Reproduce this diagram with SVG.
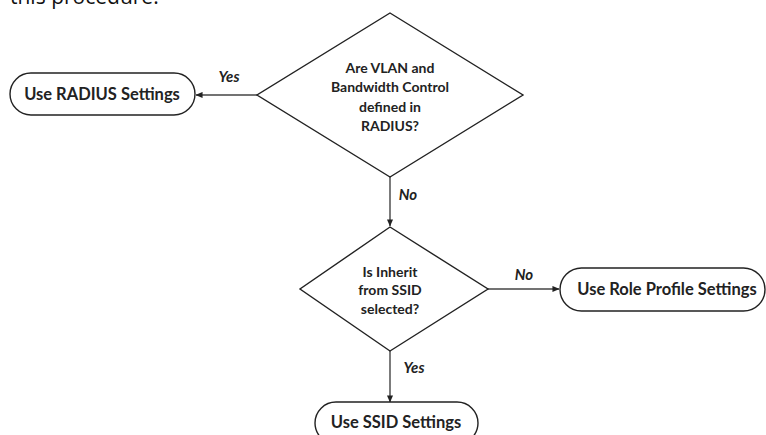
<svg xmlns="http://www.w3.org/2000/svg" width="766" height="435" viewBox="0 0 766 435">
<defs>
<marker id="ah" viewBox="0 0 8 8" refX="7.5" refY="4" markerWidth="7" markerHeight="7" markerUnits="userSpaceOnUse" orient="auto">
<path d="M0,0.5 L8,4 L0,7.5 z" fill="#222"/>
</marker>
<style>
.shape{fill:#fff;stroke:#222;stroke-width:1.4}
.conn{fill:none;stroke:#444;stroke-width:1.4}
.q{font-family:Lato,"Liberation Sans",sans-serif;font-size:14px;font-weight:700;fill:#222;text-anchor:middle}
.t{font-family:Lato,"Liberation Sans",sans-serif;font-size:16.5px;font-weight:700;fill:#222;text-anchor:middle}
.l{font-family:Lato,"Liberation Sans",sans-serif;font-size:15px;font-weight:700;font-style:italic;fill:#222;text-anchor:middle}
.top{font-family:"Open Sans","Liberation Sans",sans-serif;font-size:21px;fill:#111}
</style>
</defs>
<rect width="766" height="435" fill="#fff"/>
<text class="top" x="10" y="4">this procedure:</text>
<g id="connectors">
<line class="conn" x1="257" y1="95" x2="196" y2="95" marker-end="url(#ah)"/>
<line class="conn" x1="390" y1="177" x2="390" y2="226" marker-end="url(#ah)"/>
<line class="conn" x1="488" y1="289" x2="559" y2="289" marker-end="url(#ah)"/>
<line class="conn" x1="390" y1="351" x2="390" y2="402" marker-end="url(#ah)"/>
<text class="l" x="229" y="82">Yes</text>
<text class="l" x="408" y="200">No</text>
<text class="l" x="524" y="280">No</text>
<text class="l" x="414" y="373">Yes</text>
</g>
<g id="q1">
<polygon class="shape" points="390,13 523,95 390,177 257,95"/>
<text class="q" x="390" y="73">Are VLAN and</text>
<text class="q" x="390" y="92">Bandwidth Control</text>
<text class="q" x="390" y="112">defined in</text>
<text class="q" x="390" y="131">RADIUS?</text>
</g>
<g id="radius">
<rect class="shape" x="10" y="73" width="185" height="42" rx="21"/>
<text class="t" x="102" y="100">Use RADIUS Settings</text>
</g>
<g id="q2">
<polygon class="shape" points="390,227 488,289 390,351 300,289"/>
<text class="q" x="390" y="277">Is Inherit</text>
<text class="q" x="390" y="295">from SSID</text>
<text class="q" x="390" y="314">selected?</text>
</g>
<g id="role">
<rect class="shape" x="560" y="268" width="205" height="43" rx="21.5"/>
<text class="t" x="667" y="295">Use Role Profile Settings</text>
</g>
<g id="ssid">
<rect class="shape" x="315" y="402" width="163" height="42" rx="21"/>
<text class="t" x="396" y="428">Use SSID Settings</text>
</g>
</svg>
